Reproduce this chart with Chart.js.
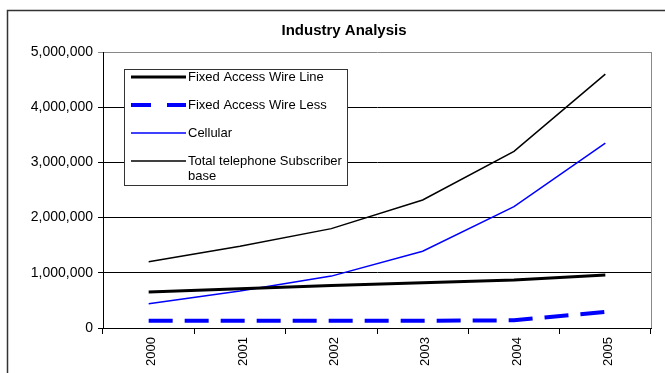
<!DOCTYPE html>
<html>
<head>
<meta charset="utf-8">
<script src="https://cdn.jsdelivr.net/npm/chart.js@4/dist/chart.umd.min.js"></script>
<style>
  html, body { margin: 0; padding: 0; background: #fff; }
  #wrap { width: 665px; height: 373px; }
</style>
</head>
<body>
<div id="wrap"><canvas id="myChart" width="665" height="373"></canvas></div>
<script>
const years = ["2000", "2001", "2002", "2003", "2004", "2005"];
const wireLine = [650000, 710000, 770000, 820000, 870000, 960000];
const wireLess = [130000, 130000, 130000, 130000, 140000, 290000];
const cellular = [440000, 670000, 940000, 1390000, 2200000, 3350000];
const totalBase = [1200000, 1480000, 1800000, 2320000, 3200000, 4600000];
const yTicks = [0, 1000000, 2000000, 3000000, 4000000, 5000000];

const FONT = 'Arial, "Liberation Sans", sans-serif';

// outer frame + title + right edge of the plot
const framePlugin = {
  id: "frame",
  beforeDraw(chart) {
    const ctx = chart.ctx;
    ctx.save();
    ctx.fillStyle = "#fff";
    ctx.fillRect(0, 0, chart.width, chart.height);
    ctx.strokeStyle = "#333";
    ctx.lineWidth = 1.5;
    ctx.strokeRect(7.5, 10.5, 700, 400);
    ctx.fillStyle = "#000";
    ctx.font = "bold 15px " + FONT;
    ctx.textAlign = "center";
    ctx.textBaseline = "middle";
    ctx.fillText("Industry Analysis", 344, 31);
    ctx.restore();
  },
  afterDatasetsDraw(chart) {
    const a = chart.chartArea;
    const ctx = chart.ctx;
    ctx.save();
    ctx.strokeStyle = "#888";
    ctx.lineWidth = 1;
    ctx.beginPath();
    ctx.moveTo(Math.round(a.right) + 0.5, a.top);
    ctx.lineTo(Math.round(a.right) + 0.5, a.bottom);
    ctx.stroke();
    ctx.restore();
  }
};

// boxed legend sitting inside the plot
const boxLegend = {
  id: "boxLegend",
  afterDraw(chart) {
    const ctx = chart.ctx;
    const x = 124, y = 69, w = 223, h = 116;
    ctx.save();
    ctx.fillStyle = "#fff";
    ctx.fillRect(x, y, w, h);
    ctx.strokeStyle = "#333";
    ctx.lineWidth = 1;
    ctx.strokeRect(x + 0.5, y + 0.5, w, h);
    const rows = [77, 105, 133, 161];
    ctx.font = "13px " + FONT;
    ctx.textBaseline = "middle";
    ctx.textAlign = "left";
    chart.data.datasets.forEach((ds, i) => {
      const ry = rows[i];
      ctx.strokeStyle = ds.borderColor;
      ctx.lineWidth = ds.borderWidth;
      ctx.setLineDash(ds.borderDash ? [20, 16] : []);
      ctx.beginPath();
      ctx.moveTo(131, ry);
      ctx.lineTo(186, ry);
      ctx.stroke();
      ctx.setLineDash([]);
      ctx.fillStyle = "#000";
      const lines = ds.legendLines || [ds.label];
      lines.forEach((t, k) => ctx.fillText(t, 188, ry + k * 15));
    });
    ctx.restore();
  }
};

new Chart("myChart", {
  type: "line",
  data: {
    labels: years,
    datasets: [
      {
        label: "Fixed Access Wire Line",
        data: wireLine,
        borderColor: "#000",
        borderWidth: 3
      },
      {
        label: "Fixed Access Wire Less",
        data: wireLess,
        borderColor: "#0000ff",
        borderWidth: 4,
        borderDash: [24, 12]
      },
      {
        label: "Cellular",
        data: cellular,
        borderColor: "#0000ff",
        borderWidth: 1.5
      },
      {
        label: "Total telephone Subscriber base",
        legendLines: ["Total telephone Subscriber", "base"],
        data: totalBase,
        borderColor: "#000",
        borderWidth: 1.5
      }
    ]
  },
  options: {
    responsive: false,
    animation: false,
    layout: { padding: { top: 52, right: 14, left: 0, bottom: 0 } },
    elements: {
      point: { radius: 0 },
      line: { tension: 0, fill: false }
    },
    plugins: {
      legend: { display: false },
      title: { display: false },
      tooltip: { enabled: false }
    },
    scales: {
      x: {
        offset: true,
        grid: {
          offset: true,
          drawOnChartArea: false,
          drawTicks: true,
          tickLength: 6,
          color: "#000"
        },
        border: { color: "#000" },
        ticks: {
          color: "#000",
          font: { family: FONT, size: 13 },
          minRotation: 90,
          maxRotation: 90,
          padding: 3,
          labelOffset: 3
        },
        afterFit(s) { s.height = 45; }
      },
      y: {
        min: 0,
        max: 5000000,
        afterBuildTicks(s) { s.ticks = yTicks.map(v => ({ value: v })); },
        grid: {
          color: ctx => (ctx.tick && ctx.tick.value === 5000000 ? "#888" : "#000"),
          tickLength: 5,
          drawTicks: true
        },
        border: { color: "#000" },
        ticks: {
          color: "#000",
          font: { family: FONT, size: 14 },
          padding: 5,
          callback: v => v.toLocaleString("en-US")
        },
        afterFit(s) { s.width = 103; }
      }
    }
  },
  plugins: [framePlugin, boxLegend]
});
</script>
</body>
</html>
